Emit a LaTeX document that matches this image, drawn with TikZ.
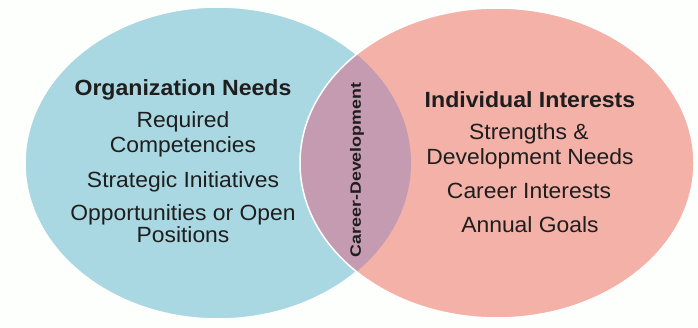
\documentclass[tikz,border=0pt]{standalone}
\usepackage{fontspec}
\setmainfont{Liberation Sans}
\definecolor{bgc}{HTML}{FCFFFC}
\definecolor{orgblue}{HTML}{A9D8E2}
\definecolor{indpink}{HTML}{F4B1A7}
\definecolor{overlap}{HTML}{C59BB2}
\definecolor{txt}{HTML}{1E1E1E}
\tikzset{
  x=1pt, y=1pt,
  txtline/.style={anchor=base, inner sep=0pt, text=txt, font=\fontsize{22}{24}\selectfont},
  headline/.style={txtline, font=\fontsize{22}{24}\selectfont\bfseries},
}
\newcommand{\hstretch}[2]{\scalebox{#1}[1]{#2}}
\begin{document}
\begin{tikzpicture}
\useasboundingbox[fill=bgc] (0,0) rectangle (698,327);
% ellipses
\fill[orgblue, draw=white, line width=1.5pt] (218,164) ellipse [x radius=193, y radius=156];
\fill[indpink] (497,164) ellipse [x radius=197, y radius=155];
\begin{scope}
  \clip (218,164) ellipse [x radius=193, y radius=156];
  \fill[overlap] (497,164) ellipse [x radius=197, y radius=155];
\end{scope}
\draw[white, line width=1.5pt] (497,164) ellipse [x radius=197, y radius=155];
% left text
\node[headline] (on) at (183,231) {\hstretch{1.05}{Organization Needs}};
\node[txtline] (rq) at (183,199) {\hstretch{1.04}{Required}};
\node[txtline] (cp) at (183,175) {\hstretch{1.04}{Competencies}};
\node[txtline] (si) at (183,140) {\hstretch{1.04}{Strategic Initiatives}};
\node[txtline] (op) at (183,107) {\hstretch{1.04}{Opportunities or Open}};
\node[txtline] (ps) at (183,85) {\hstretch{1.04}{Positions}};
% right text
\node[headline] (ii) at (530,219) {\hstretch{1.05}{Individual Interests}};
\node[txtline] (st) at (529,187) {\hstretch{1.04}{Strengths \&}};
\node[txtline] (dn) at (530,162) {\hstretch{1.04}{Development Needs}};
\node[txtline] (ci) at (529,129) {\hstretch{1.04}{Career Interests}};
\node[txtline] (ag) at (530,95) {\hstretch{1.04}{Annual Goals}};
% overlap label
\node[rotate=90, inner sep=0pt, text=txt, font=\fontsize{15}{16}\selectfont\bfseries] (cd) at (357,157) {\hstretch{1.19}{Career-Development}};
\end{tikzpicture}
\end{document}
